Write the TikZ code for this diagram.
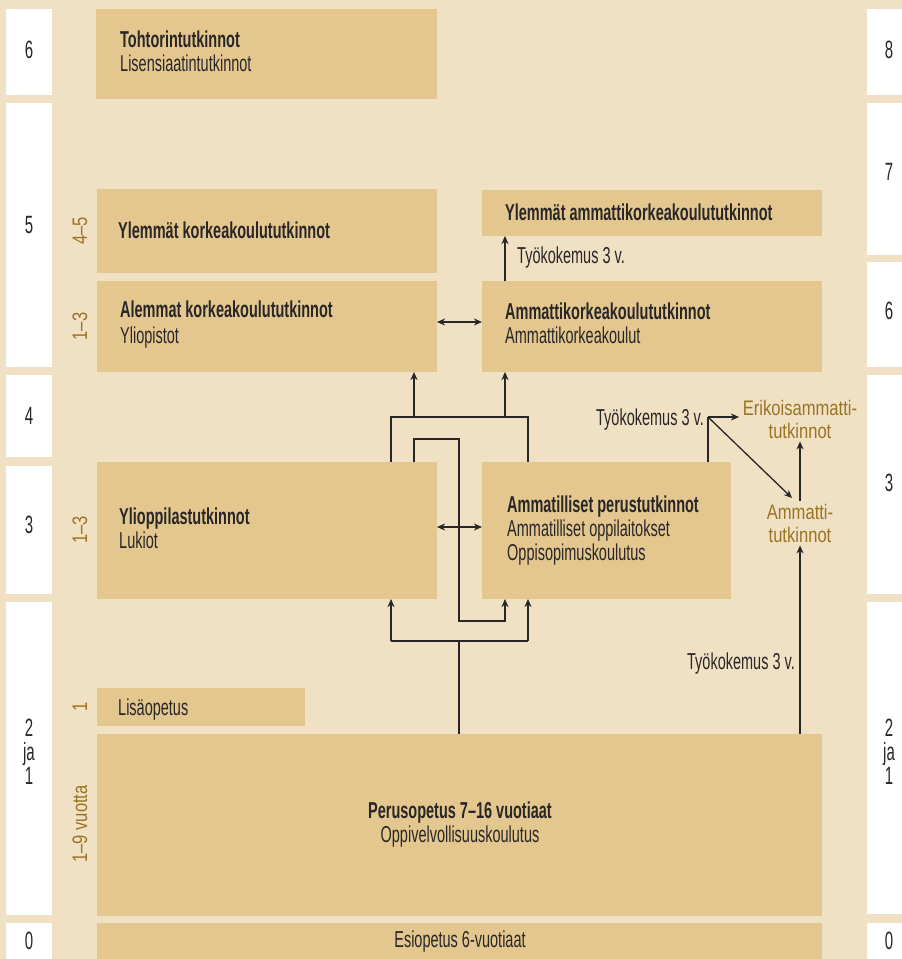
\documentclass[tikz,border=0pt]{standalone}
\usepackage{fontspec}
\setmainfont{Liberation Sans}
\newfontfamily\fmain{Liberation Sans}[FakeStretch=0.63]
\newfontfamily\fnum{Liberation Sans}[FakeStretch=0.6]
\newfontfamily\fgold{Liberation Sans}[FakeStretch=0.79]
\usetikzlibrary{arrows.meta}
\definecolor{bg}{RGB}{240,224,196}
\definecolor{boxc}{RGB}{228,199,143}
\definecolor{gold}{RGB}{154,116,36}
\definecolor{ink}{RGB}{40,38,38}
\begin{document}
\begin{tikzpicture}[x=1pt,y=-1pt,
  box/.style={fill=boxc, draw=none, inner sep=0pt, outer sep=0pt, anchor=north west},
  wbox/.style={fill=white, draw=none, inner sep=0pt, outer sep=0pt, anchor=north west, minimum width=46pt},
  rbox/.style={fill=white, draw=none, inner sep=0pt, outer sep=0pt, anchor=north west, minimum width=35pt},
  ttl/.style={font=\fmain\bfseries\fontsize{23}{24}\selectfont, text=ink, inner sep=0pt, anchor=base west},
  sub/.style={font=\fmain\fontsize{23}{24}\selectfont, text=ink, inner sep=0pt, anchor=base west},
  num/.style={font=\fnum\fontsize{25}{24}\selectfont, text=ink, inner sep=0pt, align=center},
  gl/.style={font=\fgold\fontsize{21}{23}\selectfont, text=gold, inner sep=3pt, align=center},
  vlab/.style={font=\fgold\fontsize{21}{21}\selectfont, text=gold, inner sep=0pt, rotate=90},
  ln/.style={draw=ink, line width=1.3pt},
  arr/.style={draw=ink, line width=1.3pt, -{Stealth[length=8pt,width=7pt,inset=2.5pt]}},
  darr/.style={draw=ink, line width=1.3pt, {Stealth[length=8pt,width=7pt,inset=2.5pt]}-{Stealth[length=8pt,width=7pt,inset=2.5pt]}}
]
\useasboundingbox (0,0) rectangle (902,959);
\fill[bg] (0,0) rectangle (902,959);

% side columns
\node[wbox, minimum height=86pt] (L6) at (6,9) {};
\node[wbox, minimum height=264pt] (L5) at (6,103) {};
\node[wbox, minimum height=82pt] (L4) at (6,375) {};
\node[wbox, minimum height=128pt] (L3) at (6,466) {};
\node[wbox, minimum height=313pt] (L21) at (6,602) {};
\node[wbox, minimum height=36pt] (L0) at (6,923) {};
\node[rbox, minimum height=86pt] (R8) at (867,9) {};
\node[rbox, minimum height=152pt] (R7) at (867,103) {};
\node[rbox, minimum height=105pt] (R6) at (867,262) {};
\node[rbox, minimum height=219pt] (R3) at (867,375) {};
\node[rbox, minimum height=312pt] (R21) at (867,602) {};
\node[rbox, minimum height=36pt] (R0) at (867,923) {};

\node[num] (nL6) at (29,50) {6};
\node[num] (nL5) at (29,225) {5};
\node[num] (nL4) at (29,416) {4};
\node[num] (nL3) at (29,525) {3};
\node[num] (nL21) at (29,752) {2\\ja\\1};
\node[num] (nL0) at (29,941) {0};
\node[num] (nR8) at (889,50) {8};
\node[num] (nR7) at (889,172) {7};
\node[num] (nR6) at (889,311) {6};
\node[num] (nR3) at (889,483) {3};
\node[num] (nR21) at (889,752) {2\\ja\\1};
\node[num] (nR0) at (889,941) {0};

% main boxes
\node[box, minimum width=341pt, minimum height=90pt] (toht) at (96,9) {};
\node[box, minimum width=340pt, minimum height=84pt] (ylk) at (97,189) {};
\node[box, minimum width=340pt, minimum height=91pt] (alem) at (97,281) {};
\node[box, minimum width=340pt, minimum height=46pt] (yamk) at (482,190) {};
\node[box, minimum width=340pt, minimum height=91pt] (amk) at (482,281) {};
\node[box, minimum width=340pt, minimum height=137pt] (ylio) at (97,462) {};
\node[box, minimum width=249pt, minimum height=137pt] (amper) at (482,462) {};
\node[box, minimum width=208pt, minimum height=38pt] (lisa) at (97,688) {};
\node[box, minimum width=725pt, minimum height=182pt] (perus) at (97,734) {};
\node[box, minimum width=725pt, minimum height=36pt] (esi) at (97,923) {};

% texts
\node[ttl] (t1) at (120,47.5) {Tohtorintutkinnot};
\node[sub] (t1b) at (120,71.5) {Lisensiaatintutkinnot};
\node[ttl] (t2) at (118,238) {Ylemmät korkeakoulututkinnot};
\node[ttl] (t3) at (120,317.5) {Alemmat korkeakoulututkinnot};
\node[sub] (t3b) at (120,343) {Yliopistot};
\node[ttl] (t4) at (505,220.5) {Ylemmät ammattikorkeakoulututkinnot};
\node[ttl] (t5) at (505,319.5) {Ammattikorkeakoulututkinnot};
\node[sub] (t5b) at (505,343.5) {Ammattikorkeakoulut};
\node[ttl] (t6) at (119,524.5) {Ylioppilastutkinnot};
\node[sub] (t6b) at (119,548.5) {Lukiot};
\node[ttl] (t7) at (507,512.5) {Ammatilliset perustutkinnot};
\node[sub] (t7b) at (507,536.5) {Ammatilliset oppilaitokset};
\node[sub] (t7c) at (507,560.5) {Oppisopimuskoulutus};
\node[sub] (t8) at (118,715) {Lisäopetus};
\node[ttl, anchor=base] (t9) at (460,818.5) {Perusopetus 7–16 vuotiaat};
\node[sub, anchor=base] (t9b) at (460,842) {Oppivelvollisuuskoulutus};
\node[sub, anchor=base] (t10) at (460,947) {Esiopetus 6-vuotiaat};
\node[sub] (tk1) at (517,263.5) {Työkokemus 3 v.};
\node[sub, anchor=base east] (tk2) at (704,425) {Työkokemus 3 v.};
\node[sub, anchor=base east] (tk3) at (795,669) {Työkokemus 3 v.};
\node[gl] (erik) at (800,419) {Erikoisammatti-\\tutkinnot};
\node[gl] (ammt) at (800,523) {Ammatti-\\tutkinnot};

% vertical labels
\node[vlab] (v1) at (80,231) {4–5};
\node[vlab] (v2) at (80,326.5) {1–3};
\node[vlab] (v3) at (80,530) {1–3};
\node[vlab] (v4) at (80,707) {1};
\node[vlab] (v5) at (80,824) {1–9 vuotta};

% connectors
\coordinate (j1) at (391,417);
\coordinate (j2) at (528,417);
\coordinate (a1) at (414,417);
\coordinate (a2) at (505,417);
\draw[ln] (j1 |- ylio.north) -- (j1) -- (j2) -- (j2 |- amper.north);
\draw[arr] (a1) -- (a1 |- alem.south);
\draw[arr] (a2) -- (a2 |- amk.south);

\coordinate (b1) at (414,439);
\coordinate (b2) at (459,621);
\coordinate (b3) at (505,621);
\draw[arr] (b1 |- ylio.north) -- (b1) -| (b2) -- (b3) -- (b3 |- amper.south);

\coordinate (c0) at (459,641);
\coordinate (c1) at (391,641);
\coordinate (c2) at (528,641);
\draw[ln] (c0 |- perus.north) -- (c0);
\draw[ln] (c1) -- (c2);
\draw[arr] (c1) -- (c1 |- ylio.south);
\draw[arr] (c2) -- (c2 |- amper.south);

\draw[darr] ([yshift=4.5pt]alem.east) -- ([yshift=4.5pt]amk.west);
\draw[darr] ([yshift=3.5pt]ylio.east) -- ([yshift=3.5pt]amper.west);

\coordinate (d1) at (505,258);
\draw[arr] (d1 |- amk.north) -- (d1 |- yamk.south);

\coordinate (e0) at (708,417);
\coordinate (e1) at (739,417);
\coordinate (e2) at (792,498);
\draw[ln] (e0 |- amper.north) -- (e0);
\draw[arr] (e0) -- (e1);
\draw[arr] (e0) -- (e2);
\draw[arr] (ammt.north) -- (erik.south);
\coordinate (f1) at (800,700);
\draw[arr] (f1 |- perus.north) -- (ammt.south);
\end{tikzpicture}
\end{document}
